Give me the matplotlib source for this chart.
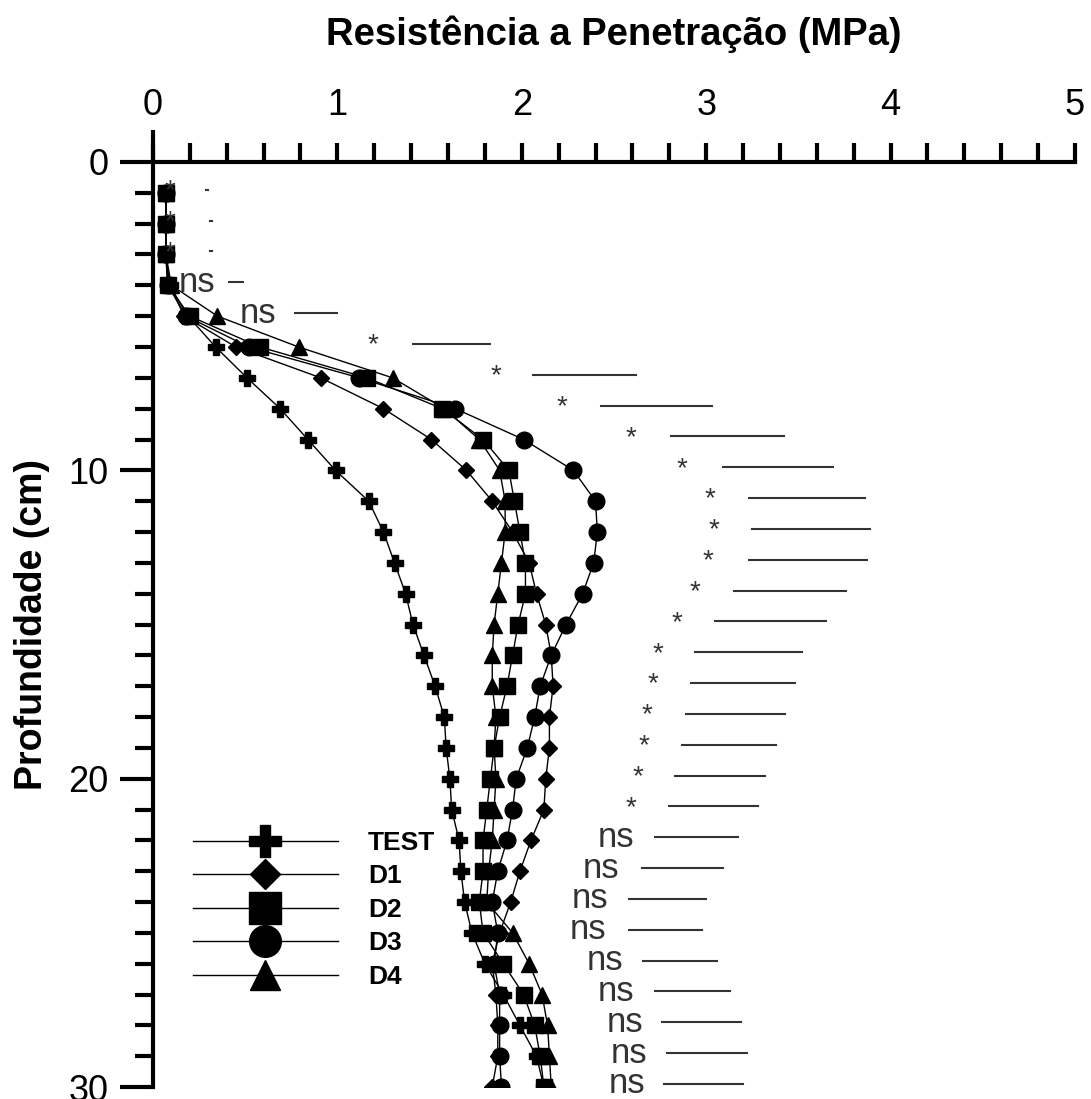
import matplotlib
matplotlib.use("Agg")
import matplotlib.pyplot as plt
from matplotlib.lines import Line2D
from matplotlib.ticker import MultipleLocator

plt.rcParams['font.family'] = ['Liberation Sans', 'DejaVu Sans']

depth = list(range(1, 31))

test = [0.07, 0.07, 0.07, 0.09, 0.19, 0.34, 0.51, 0.69, 0.84, 0.99,
        1.17, 1.25, 1.31, 1.37, 1.41, 1.47, 1.53, 1.58, 1.59, 1.61,
        1.62, 1.66, 1.67, 1.69, 1.73, 1.80, 1.90, 1.99, 2.08, 2.12]
d1 = [0.07, 0.07, 0.07, 0.09, 0.17, 0.45, 0.91, 1.25, 1.51, 1.70,
      1.84, 1.95, 2.04, 2.08, 2.13, 2.16, 2.17, 2.15, 2.15, 2.13,
      2.12, 2.05, 1.99, 1.94, 1.88, 1.84, 1.86, 1.87, 1.87, 1.84]
d2 = [0.07, 0.07, 0.07, 0.08, 0.20, 0.58, 1.16, 1.57, 1.79, 1.93,
      1.96, 1.99, 2.02, 2.02, 1.98, 1.95, 1.92, 1.88, 1.85, 1.83,
      1.81, 1.79, 1.79, 1.77, 1.79, 1.90, 2.01, 2.07, 2.10, 2.12]
d3 = [0.07, 0.07, 0.07, 0.08, 0.18, 0.52, 1.12, 1.64, 2.01, 2.28,
      2.40, 2.41, 2.39, 2.33, 2.24, 2.16, 2.10, 2.07, 2.03, 1.97,
      1.95, 1.92, 1.87, 1.84, 1.87, 1.85, 1.88, 1.88, 1.88, 1.89]
d4 = [0.07, 0.07, 0.07, 0.10, 0.35, 0.79, 1.30, 1.58, 1.77, 1.88,
      1.91, 1.91, 1.89, 1.87, 1.85, 1.84, 1.84, 1.86, 1.85, 1.86,
      1.85, 1.84, 1.82, 1.81, 1.95, 2.04, 2.11, 2.14, 2.15, 2.16]

series_labels = ['TEST', 'D1', 'D2', 'D3', 'D4']

# significance annotations per depth
sig_text = ['*', '*', '*', 'ns', 'ns', '*', '*', '*', '*', '*',
            '*', '*', '*', '*', '*', '*', '*', '*', '*', '*',
            '*', 'ns', 'ns', 'ns', 'ns', 'ns', 'ns', 'ns', 'ns', 'ns']
sig_text_x = [0.09, 0.09, 0.09, 0.24, 0.57, 1.19, 1.86, 2.22, 2.59, 2.87,
              3.02, 3.04, 3.01, 2.94, 2.84, 2.74, 2.71, 2.68, 2.66, 2.63,
              2.59, 2.51, 2.43, 2.37, 2.36, 2.45, 2.51, 2.56, 2.58, 2.57]
sig_line_start = [0.29, 0.31, 0.31, 0.41, 0.77, 1.41, 2.06, 2.43, 2.81, 3.09,
                  3.23, 3.25, 3.23, 3.15, 3.05, 2.94, 2.92, 2.89, 2.87, 2.83,
                  2.80, 2.72, 2.65, 2.58, 2.58, 2.66, 2.72, 2.76, 2.79, 2.77]
sig_line_end = [0.30, 0.32, 0.32, 0.49, 1.00, 1.83, 2.62, 3.03, 3.42, 3.69,
                3.86, 3.89, 3.87, 3.76, 3.65, 3.52, 3.48, 3.43, 3.38, 3.32,
                3.28, 3.17, 3.09, 3.00, 2.98, 3.06, 3.13, 3.19, 3.22, 3.20]

fig = plt.figure(figsize=(10.91, 10.99), dpi=100)
ax = fig.add_axes([0.1402, 0.0109, 0.8451, 0.8417])

styles = [dict(marker='P', ms=12), dict(marker='D', ms=8),
          dict(marker='s', ms=12), dict(marker='o', ms=12),
          dict(marker='^', ms=11)]
handles = []
for vals, lab, st in zip([test, d1, d2, d3, d4], series_labels, styles):
    h, = ax.plot(vals, depth, color='black', lw=1.0, mfc='black', mec='black',
                 label=lab, **st)
    handles.append(h)

for y, t, tx, x0, x1 in zip(depth, sig_text, sig_text_x, sig_line_start, sig_line_end):
    ax.plot([x0, x1], [y - 0.1, y - 0.1], color='#333333', lw=1.5)
    if t == '*':
        ax.text(tx, y - 0.05, t, ha='center', va='center', fontsize=20, color='#333333')
    else:
        ax.text(tx, y - 0.1, t, ha='center', va='center', fontsize=25, color='#333333')

ax.set_xlim(0, 5)
ax.set_ylim(30, 0)
ax.xaxis.set_major_locator(MultipleLocator(1))
ax.xaxis.set_minor_locator(MultipleLocator(0.2))
ax.yaxis.set_major_locator(MultipleLocator(10))
ax.yaxis.set_minor_locator(MultipleLocator(1))
ax.xaxis.tick_top()
ax.xaxis.set_label_position('top')
for s in ['right', 'bottom']:
    ax.spines[s].set_visible(False)
for s in ['top', 'left']:
    ax.spines[s].set_linewidth(3)
ax.tick_params(axis='x', which='major', length=14, width=3, labelsize=26, pad=14, direction='out')
ax.tick_params(axis='x', which='minor', length=14, width=3, direction='out')
ax.tick_params(axis='y', which='major', length=24, width=3, labelsize=26, pad=8, direction='out')
ax.tick_params(axis='y', which='minor', length=13, width=3, direction='out')

# left spine continues a little above the top axis line
ax.add_line(Line2D([0, 0], [1, 1 + 32 / 925], transform=ax.transAxes,
                   color='black', lw=3, clip_on=False, solid_capstyle='butt'))

ax.set_xlabel('Resistência a Penetração (MPa)', fontsize=27.5, fontweight='bold', labelpad=31)
ax.set_ylabel('Profundidade (cm)', fontsize=27, fontweight='bold')
ax.yaxis.set_label_coords(-0.112, 0.5)

leg = ax.legend(handles=handles, loc='upper left', bbox_to_anchor=(0.043, 0.277),
                frameon=False, fontsize=19, handlelength=5.5, handletextpad=1.14,
                labelspacing=0.36, borderpad=0, borderaxespad=0, markerscale=1.9)
for t in leg.get_texts():
    t.set_fontweight('bold')

fig.savefig('out.png', dpi=100)
